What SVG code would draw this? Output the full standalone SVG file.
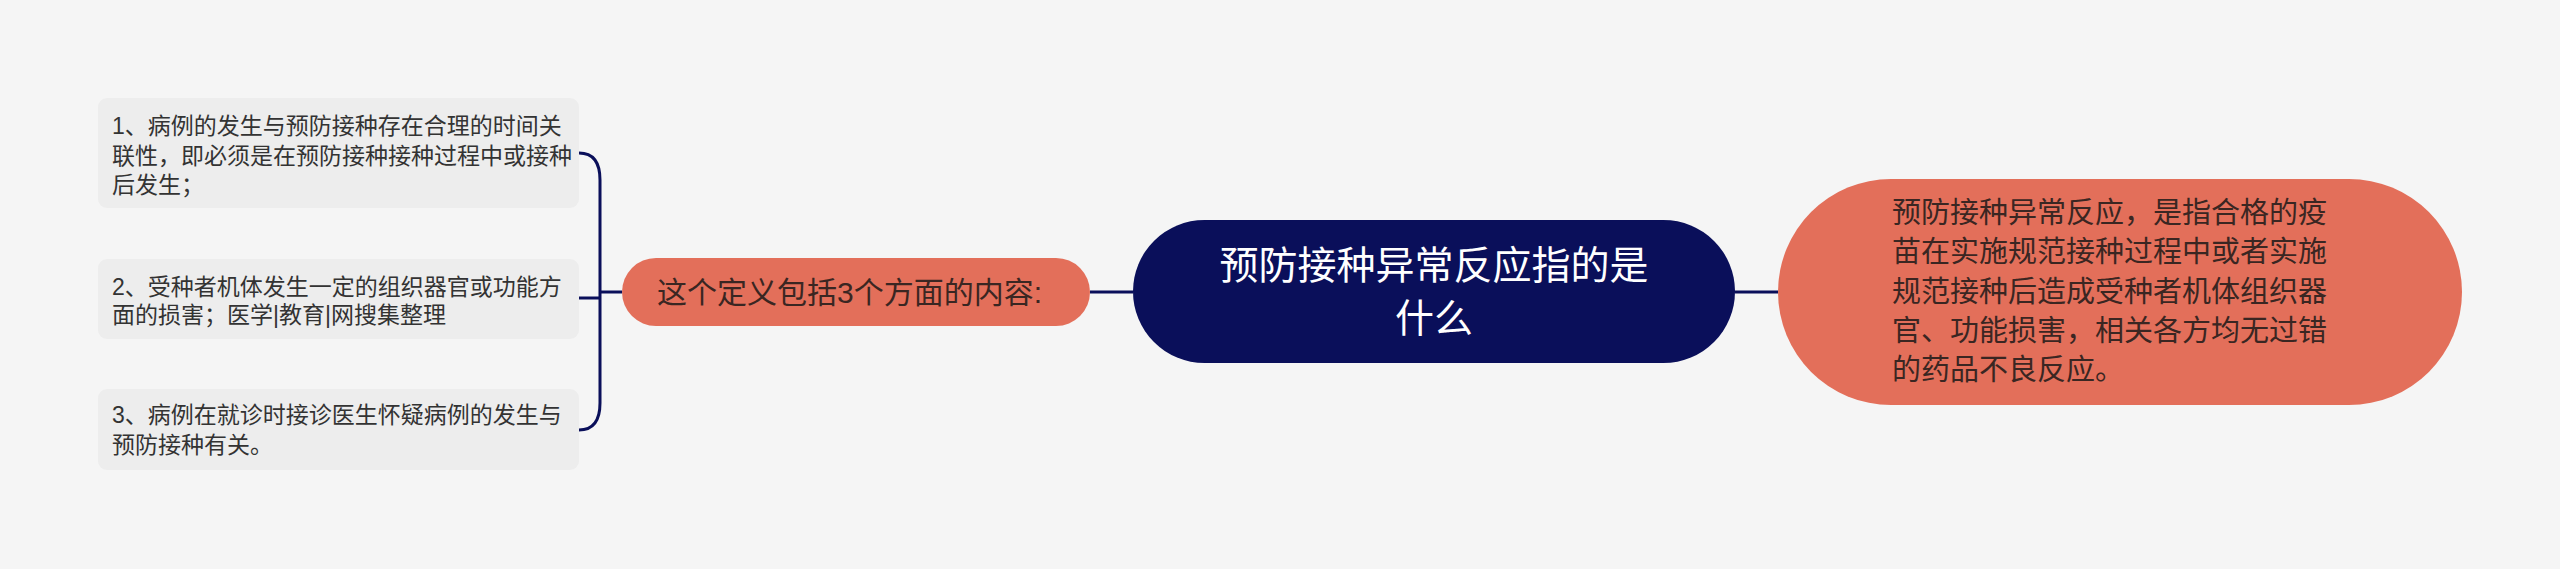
<svg xmlns="http://www.w3.org/2000/svg" width="2560" height="569" viewBox="0 0 2560 569">
<style>
.bg{fill:#f5f5f5}
.leaf{fill:#ededed}
.leaf-t{font-family:"Liberation Sans","Noto Sans CJK SC",sans-serif;font-size:23px;fill:#333333}
.sub{fill:#e36f5a}
.sub-t{font-family:"Liberation Sans","Noto Sans CJK SC",sans-serif;fill:#3a2622}
.root{fill:#0a0f5a}
.root-t{font-family:"Liberation Sans","Noto Sans CJK SC",sans-serif;font-size:39px;fill:#ffffff;text-anchor:middle}
.conn{fill:none;stroke:#0a0f5a;stroke-width:3}
</style>
<rect class="bg" x="0" y="0" width="2560" height="569"/>
<g id="connectors">
<path class="conn" d="M579,153 C593,153 600,162 600,180 L600,403 C600,421 593,430 579,430"/>
<path class="conn" d="M579,298 L600,298"/>
<path class="conn" d="M600,292 L622,292"/>
<path class="conn" d="M1090,292 L1133,292"/>
<path class="conn" d="M1735,292 L1778,292"/>
</g>
<g id="root">
<rect class="root" x="1133" y="220" width="602" height="143" rx="71.5"/>
<text class="root-t" x="1434" y="279">预防接种异常反应指的是</text>
<text class="root-t" x="1434" y="332">什么</text>
</g>
<g id="right">
<rect class="sub" x="1778" y="179" width="684" height="226" rx="113"/>
<text class="sub-t" font-size="29" x="1892" y="223">预防接种异常反应，是指合格的疫</text>
<text class="sub-t" font-size="29" x="1892" y="262">苗在实施规范接种过程中或者实施</text>
<text class="sub-t" font-size="29" x="1892" y="302">规范接种后造成受种者机体组织器</text>
<text class="sub-t" font-size="29" x="1892" y="341">官、功能损害，相关各方均无过错</text>
<text class="sub-t" font-size="29" x="1892" y="380">的药品不良反应。</text>
</g>
<g id="left">
<rect class="sub" x="622" y="258" width="468" height="68" rx="34"/>
<text class="sub-t" font-size="30" x="657" y="302.5">这个定义包括3个方面的内容:</text>
</g>
<g id="leaf1">
<rect class="leaf" x="98" y="98" width="481" height="110" rx="9"/>
<text class="leaf-t" x="112" y="134">1、病例的发生与预防接种存在合理的时间关</text>
<text class="leaf-t" x="112" y="163.5">联性，即必须是在预防接种接种过程中或接种</text>
<text class="leaf-t" x="112" y="193">后发生；</text>
</g>
<g id="leaf2">
<rect class="leaf" x="98" y="259" width="481" height="80" rx="9"/>
<text class="leaf-t" x="112" y="294.5">2、受种者机体发生一定的组织器官或功能方</text>
<text class="leaf-t" x="112" y="323">面的损害；医学|教育|网搜集整理</text>
</g>
<g id="leaf3">
<rect class="leaf" x="98" y="389" width="481" height="81" rx="9"/>
<text class="leaf-t" x="112" y="423">3、病例在就诊时接诊医生怀疑病例的发生与</text>
<text class="leaf-t" x="112" y="453">预防接种有关。</text>
</g>
</svg>
